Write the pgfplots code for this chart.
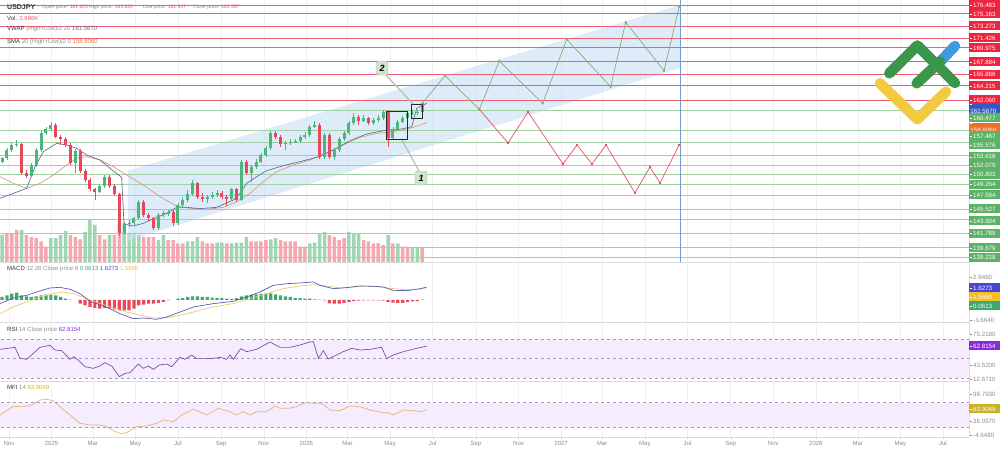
\documentclass[border=0pt]{standalone}
\usepackage{pgfplots}
\pgfplotsset{compat=1.18}
\usepackage{pgfplotstable}
\usepackage{fontspec}
\setmainfont{Liberation Sans}

\definecolor{cgreen}{RGB}{77,182,122}
\definecolor{cred}{RGB}{232,72,92}
\definecolor{vgreen}{RGB}{160,215,178}
\definecolor{vred}{RGB}{244,168,178}
\definecolor{lvred}{RGB}{236,96,116}
\definecolor{lvgreen}{RGB}{160,208,164}
\definecolor{boxred}{RGB}{238,36,62}
\definecolor{boxgreen}{RGB}{92,178,102}
\definecolor{boxblue}{RGB}{52,88,196}
\definecolor{boxorange}{RGB}{238,112,40}
\definecolor{chan}{RGB}{200,224,245}
\definecolor{vblue}{RGB}{110,160,212}
\definecolor{fgreen}{RGB}{130,172,120}
\definecolor{fred}{RGB}{230,80,92}
\definecolor{vwap}{RGB}{100,110,160}
\definecolor{sma}{RGB}{212,160,122}
\definecolor{macdb}{RGB}{90,92,182}
\definecolor{macds}{RGB}{240,200,110}
\definecolor{hgreen}{RGB}{60,170,110}
\definecolor{hred}{RGB}{235,70,90}
\definecolor{rsil}{RGB}{120,80,170}
\definecolor{band}{RGB}{245,236,253}
\definecolor{bandline}{RGB}{175,145,205}
\definecolor{mfil}{RGB}{226,182,122}
\definecolor{purplebox}{RGB}{138,40,220}
\definecolor{mfibox}{RGB}{200,180,34}
\definecolor{mblue}{RGB}{70,70,210}
\definecolor{myellow}{RGB}{244,190,40}
\definecolor{lgreen}{RGB}{58,150,72}
\definecolor{lblue}{RGB}{64,152,222}
\definecolor{lyellow}{RGB}{242,202,64}
\definecolor{lblbox}{RGB}{205,228,205}
\definecolor{dark}{RGB}{50,52,64}
\definecolor{greytxt}{RGB}{140,140,150}
\definecolor{valred}{RGB}{236,92,104}

\pgfplotstableread{
d o h l c
-10 152.71 153.47 152.46 153.22
-3 153.22 154.78 152.91 154.48
4 154.48 155.54 154.23 155.24
11 155.24 156.00 154.99 155.39
18 155.39 155.59 150.64 150.94
25 150.94 151.45 150.23 150.53
32 150.53 152.46 150.33 152.20
39 152.20 154.73 151.95 154.48
46 154.48 157.41 154.23 157.11
53 157.11 158.02 156.81 157.62
60 157.62 158.78 157.31 158.27
67 158.27 158.63 156.25 156.50
74 156.50 156.81 155.24 156.10
81 156.10 156.40 154.99 155.24
88 155.24 155.49 152.15 152.46
95 152.46 154.68 151.04 154.38
102 154.38 154.68 151.04 151.34
109 151.34 151.65 149.62 149.93
116 149.93 150.23 148.21 148.51
123 148.51 148.71 146.89 148.16
130 148.16 149.32 147.90 149.02
137 149.02 150.64 148.71 150.33
144 150.33 150.64 148.71 149.02
151 149.02 149.32 147.50 147.80
158 147.80 148.01 141.43 141.84
165 141.84 143.61 141.53 143.25
172 143.25 143.86 142.85 143.45
179 143.45 144.36 143.10 144.11
186 144.11 146.89 143.86 146.64
193 146.64 146.94 144.36 144.62
200 144.62 144.97 143.76 144.11
207 144.11 144.36 142.29 142.59
214 142.59 144.87 142.34 144.62
221 144.62 145.17 144.36 144.87
228 144.87 145.38 144.46 145.07
235 145.07 145.38 142.95 143.45
242 143.45 146.39 143.15 146.14
249 146.14 147.40 145.88 146.89
256 146.89 148.41 146.64 147.80
263 147.80 149.93 147.50 149.42
270 149.42 149.67 147.00 147.30
277 147.30 147.90 146.64 147.15
284 147.15 147.65 146.39 147.30
291 147.30 148.16 147.10 147.65
298 147.65 148.41 147.40 147.90
305 147.90 148.21 147.10 147.40
312 147.40 147.65 145.98 147.00
319 147.00 148.71 146.79 148.51
326 148.51 148.71 146.64 146.89
333 146.89 152.96 146.69 152.71
340 152.71 152.96 150.69 150.94
347 150.94 152.15 149.67 151.95
354 151.95 153.06 151.65 152.71
361 152.71 154.08 152.46 153.72
368 153.72 155.09 153.47 154.73
375 154.73 157.41 154.48 157.01
382 157.01 157.31 156.20 156.50
389 156.50 156.81 154.99 155.39
396 155.39 155.90 154.48 155.59
403 155.59 156.10 155.29 155.69
410 155.69 156.10 155.49 155.80
417 155.80 156.81 155.59 156.50
424 156.50 157.21 156.20 156.76
431 156.76 158.32 156.50 158.02
438 158.02 158.83 157.82 158.27
445 158.27 158.53 153.17 153.47
452 153.47 157.06 153.17 156.76
459 156.76 157.06 153.06 153.37
466 153.37 154.78 152.96 154.48
473 154.48 156.40 154.18 156.10
480 156.10 157.31 155.90 157.01
487 157.01 158.93 156.71 158.63
494 158.63 160.04 158.32 159.54
501 159.54 159.84 158.27 158.93
508 158.93 159.84 158.73 159.29
515 159.29 159.54 158.22 158.53
522 158.53 159.29 158.22 159.03
529 159.03 159.74 158.78 159.29
536 159.29 160.60 159.03 160.30
543 160.30 160.55 154.99 156.25
550 156.25 157.92 155.95 157.62
557 157.62 159.03 157.41 158.78
564 158.78 159.59 158.53 159.29
571 159.29 160.45 159.03 160.04
578 160.04 160.60 159.74 160.15
585 160.15 160.60 159.84 160.30
592 160.30 161.62 160.00 161.56
}\candles

\pgfplotstableread{
d v g
-10 7.5 1
-3 8.0 0
4 8.0 0
11 8.9 0
18 8.9 1
25 7.5 0
32 7.0 0
39 6.6 0
46 5.7 0
53 4.3 0
60 6.6 1
67 6.6 1
74 7.5 1
81 8.6 1
88 7.5 0
95 7.0 0
102 6.3 0
109 8.4 1
116 11.9 1
123 10.3 1
130 7.5 0
137 6.3 0
144 7.5 1
151 7.5 0
158 11.2 0
165 10.8 1
172 8.0 1
179 8.0 1
186 7.5 1
193 7.0 0
200 7.0 0
207 7.0 0
214 6.1 1
221 7.5 1
228 6.1 0
235 6.1 0
242 5.2 0
249 5.2 0
256 5.7 1
263 5.7 1
270 7.0 1
277 5.7 0
284 5.2 0
291 5.2 0
298 5.4 1
305 5.4 1
312 5.2 0
319 5.2 1
326 5.4 1
333 5.4 1
340 7.0 1
347 5.7 0
354 5.7 0
361 5.7 0
368 6.1 0
375 6.3 1
382 6.6 1
389 6.1 0
396 5.7 0
403 5.7 0
410 5.7 0
417 4.3 0
424 4.3 0
431 5.2 1
438 5.4 1
445 8.0 1
452 8.4 1
459 7.5 0
466 7.0 0
473 6.1 0
480 6.6 0
487 8.4 1
494 8.0 1
501 8.0 1
508 6.1 0
515 5.7 0
522 5.2 0
529 5.2 0
536 4.7 0
543 7.5 1
550 5.2 0
557 5.2 1
564 4.3 0
571 4.3 0
578 4.0 1
585 4.0 1
592 3.9 0
}\vol

\pgfplotstableread{
d h
-10 0.38
-3 0.59
4 0.80
11 0.93
18 0.59
25 0.46
32 0.38
39 0.46
46 0.59
53 0.67
60 0.67
67 0.59
74 0.38
81 0.17
88 0.04
95 0
102 -0.46
109 -0.67
116 -0.88
123 -1.01
130 -1.10
137 -1.01
144 -1.10
151 -1.18
158 -1.31
165 -1.31
172 -1.31
179 -1.10
186 -0.67
193 -0.59
200 -0.46
207 -0.46
214 -0.38
221 -0.25
228 -0.04
235 0
242 0.17
249 0.25
256 0.38
263 0.46
270 0.46
277 0.38
284 0.38
291 0.29
298 0.25
305 0.25
312 0.17
319 0.13
326 0.25
333 0.46
340 0.59
347 0.67
354 0.72
361 0.76
368 0.80
375 0.84
382 0.72
389 0.59
396 0.46
403 0.38
410 0.25
417 0.25
424 0.17
431 0.17
438 0.08
445 0.04
452 -0.04
459 -0.42
466 -0.46
473 -0.46
480 -0.38
487 -0.25
494 -0.13
501 -0.08
508 -0.04
515 -0.04
522 -0.04
529 -0.04
536 -0.08
543 -0.25
550 -0.34
557 -0.38
564 -0.38
571 -0.25
578 -0.17
585 -0.13
592 0.06
}\hist

\pgfplotsset{
  panel/.style={
    scale only axis, width=969pt, anchor=south west,
    xmin=-12.894, xmax=1375.36,
    axis x line*=bottom, axis y line*=right,
    axis line style={draw=black!14},
    xtick={0,61,120,181,242,304,365,426,485,546,607,669,730,791,850,911,972,1034,1095,1156,1216,1277,1338},
    xticklabels={}, ytick=\empty, tick style={draw=none},
    xmajorgrids, major grid style={draw=black!6, line width=0.5pt},
  },
}

\newcommand{\rlab}[3]{\node[anchor=west, fill=#2, text=white, inner xsep=1.2pt, inner ysep=0pt, minimum height=9pt, text width=28.6pt, align=left, font=\fontsize{6.2}{7}\selectfont] at (969pt,{449pt-#1pt}) {\rule[0.55ex]{1.6pt}{0.45pt}\hspace{1.2pt}#3};}
\newcommand{\glab}[2]{\node[anchor=west, text=black!45, inner xsep=1.2pt, inner ysep=0pt, font=\fontsize{6.2}{7}\selectfont] at (969pt,{449pt-#1pt}) {\rule[0.55ex]{1.6pt}{0.45pt}\hspace{1.2pt}#2};}

\begin{document}
\begin{tikzpicture}
\useasboundingbox (0,0) rectangle (1000pt,449pt);

% ---------- volume (background of the price panel) ----------
\begin{axis}[panel, at={(0pt,187pt)}, height=262pt, ymin=0, ymax=72.8, axis x line*=none, axis y line*=none, axis line style={draw=none}]
\addplot[ybar, bar width=3.5pt, bar shift=0pt, fill=vgreen, draw=none, restrict expr to domain={\thisrow{g}}{0.5:1.5}] table[x=d, y=v] {\vol};
\addplot[ybar, bar width=3.5pt, bar shift=0pt, fill=vred, draw=none, restrict expr to domain={\thisrow{g}}{-0.5:0.5}] table[x=d, y=v] {\vol};
\end{axis}

% ---------- price panel ----------
\begin{axis}[panel, at={(0pt,187pt)}, height=262pt, ymin=137.485, ymax=177.242, xmajorgrids=false]
\fill[chan, fill opacity=0.6] (axis cs:170.5,151.35) -- (axis cs:961.3,176.48) -- (axis cs:961.3,166.92) -- (axis cs:170.5,140.73) -- cycle;
\pgfplotsinvokeforeach{176.483,175.163,173.273,171.426,169.975,167.884,165.886,164.215,162.060}{
  \addplot[lvred, line width=0.9pt, forget plot] coordinates {(-20,#1) (1400,#1)};}
\pgfplotsinvokeforeach{160.477,157.487,155.576,153.618,152.079,150.803,149.264,147.594,145.527,143.904,141.789,139.679,138.228}{
  \addplot[lvgreen, line width=0.9pt, forget plot] coordinates {(-20,#1) (1400,#1)};}
\addplot[vblue, line width=0.7pt] coordinates {(961.3,137.485) (961.3,177.242)};
% moving averages
\addplot[sma, line width=0.7pt] coordinates {(-12.9,150.43) (6.2,149.42) (25.3,148.66) (44.4,149.42) (63.5,150.69) (82.6,152.20) (97.0,153.22) (111.3,153.47) (130.4,152.96) (149.5,151.95) (168.6,150.69) (192.4,149.17) (216.3,147.40) (240.2,145.98) (259.3,145.63) (283.2,145.48) (307.1,145.78) (326.2,146.64) (345.2,147.90) (364.3,149.67) (383.4,151.19) (407.3,152.20) (431.2,152.96) (455.1,153.97) (479.0,155.24) (502.9,156.40) (526.8,157.01) (550.6,157.26) (574.5,157.77) (598.4,158.61)};
\addplot[vwap, line width=0.7pt] coordinates {(-12.9,147.15) (6.2,147.90) (25.3,148.66) (37.3,151.95) (49.2,154.23) (68.3,155.49) (82.6,155.24) (97.0,154.73) (111.3,153.72) (130.4,152.96) (144.7,151.70) (161.4,150.33) (164.8,143.25) (178.1,142.95) (192.4,143.35) (211.6,144.26) (225.9,144.87) (240.2,145.78) (254.6,145.78) (273.6,145.58) (297.5,145.78) (321.4,146.89) (330.9,147.90) (340.5,149.42) (354.8,150.43) (369.1,151.34) (393.0,152.10) (416.9,152.71) (440.8,153.37) (464.7,154.48) (488.5,155.90) (512.4,156.91) (536.3,157.41) (560.2,157.62) (576.9,158.02) (584.1,160.80) (598.4,161.57)};
% candles: wicks
\addplot[draw=none, mark=none, forget plot, restrict expr to domain={\thisrow{c}-\thisrow{o}}{0:100},
  error bars/.cd, y dir=both, y explicit, error mark=none, error bar style={draw=cgreen, line width=0.7pt}]
  table[x=d, y expr={(\thisrow{h}+\thisrow{l})/2}, y error expr={(\thisrow{h}-\thisrow{l})/2}] {\candles};
\addplot[draw=none, mark=none, forget plot, restrict expr to domain={\thisrow{c}-\thisrow{o}}{-100:-0.0001},
  error bars/.cd, y dir=both, y explicit, error mark=none, error bar style={draw=cred, line width=0.7pt}]
  table[x=d, y expr={(\thisrow{h}+\thisrow{l})/2}, y error expr={(\thisrow{h}-\thisrow{l})/2}] {\candles};
% candles: bodies
\addplot[draw=none, mark=none, forget plot, restrict expr to domain={\thisrow{c}-\thisrow{o}}{0:100},
  error bars/.cd, y dir=both, y explicit, error mark=none, error bar style={draw=cgreen, line width=3pt}]
  table[x=d, y expr={(\thisrow{o}+\thisrow{c})/2}, y error expr={max(abs(\thisrow{c}-\thisrow{o})/2,0.06)}] {\candles};
\addplot[draw=none, mark=none, forget plot, restrict expr to domain={\thisrow{c}-\thisrow{o}}{-100:-0.0001},
  error bars/.cd, y dir=both, y explicit, error mark=none, error bar style={draw=cred, line width=3pt}]
  table[x=d, y expr={(\thisrow{o}+\thisrow{c})/2}, y error expr={max(abs(\thisrow{c}-\thisrow{o})/2,0.06)}] {\candles};
% forecast paths
\addplot[fred, line width=0.7pt, mark=*, mark size=0.8pt] coordinates {(673.8,160.66) (714.9,155.54) (743.6,160.25) (793.7,152.36) (813.8,155.24) (835.2,152.36) (855.3,155.24) (896.8,147.96) (918.3,151.90) (932.7,149.47) (959.9,155.24)};
\addplot[fgreen, line width=0.7pt, mark=*, mark size=0.8pt] coordinates {(592,161.56) (624.6,165.75) (673.8,160.66) (702.4,167.98) (764.6,161.57) (799.0,171.28) (862.0,164.08) (883.5,173.86) (938.4,166.51) (960.3,176.23)};
% boxes and labels
\draw[black!85, line width=0.8pt] (axis cs:540.1,160.40) rectangle (axis cs:570.2,156.15);
\draw[black!85, line width=0.8pt] (axis cs:575.9,161.46) rectangle (axis cs:591.7,159.34);
\draw[lblbox!85!black, line width=1.2pt] (axis cs:540.1,165.86) -- (axis cs:578.8,161.46);
\draw[lblbox!85!black, line width=1.2pt] (axis cs:587.4,151.29) -- (axis cs:563.0,155.97);
\node[fill=lblbox, draw=lblbox!80!black, rounded corners=1.5pt, minimum width=12pt, minimum height=14pt, inner sep=0pt, font=\bfseries\itshape\fontsize{9}{10}\selectfont] at (axis cs:534.4,166.92) {2};
\node[fill=lblbox, draw=lblbox!80!black, rounded corners=1.5pt, minimum width=12pt, minimum height=14pt, inner sep=0pt, font=\bfseries\itshape\fontsize{9}{10}\selectfont] at (axis cs:590.3,150.23) {1};
\end{axis}

% ---------- MACD ----------
\begin{axis}[panel, at={(0pt,127pt)}, height=60pt, ymin=-2.78, ymax=4.80]
\addplot[ybar, bar width=3.2pt, bar shift=0pt, fill=hgreen, draw=none, restrict y to domain=0.0001:10] table[x=d, y=h] {\hist};
\addplot[ybar, bar width=3.2pt, bar shift=0pt, fill=hred, draw=none, restrict y to domain=-10:-0.0001] table[x=d, y=h] {\hist};
\addplot[macds, line width=0.7pt] coordinates {(-12.9,-1.73) (6.2,-0.88) (25.3,-0.25) (44.4,0.38) (63.5,0.80) (77.8,1.01) (92.1,0.80) (111.3,0.17) (130.4,-0.46) (149.5,-1.01) (168.6,-1.52) (187.7,-1.94) (206.8,-2.28) (225.9,-2.23) (245.0,-1.94) (264.1,-1.52) (292.7,-0.88) (321.4,-0.46) (345.2,0.17) (369.1,0.80) (393.0,1.43) (416.9,1.77) (436.0,1.94) (455.1,1.77) (474.2,1.52) (493.3,1.64) (512.4,1.77) (531.5,1.64) (550.6,1.43) (569.7,1.31) (588.8,1.35) (598.4,1.566)};
\addplot[macdb, line width=0.7pt] coordinates {(-12.9,-0.46) (6.2,0.25) (25.3,0.59) (39.6,1.01) (58.7,1.52) (73.1,1.60) (87.4,1.35) (101.7,0.80) (116.1,-0.17) (130.4,-0.59) (144.7,-1.10) (159.0,-1.73) (178.1,-2.36) (192.4,-2.28) (211.6,-2.44) (225.9,-2.15) (245.0,-1.52) (264.1,-0.88) (292.7,-0.46) (321.4,-0.17) (340.5,0.38) (359.6,1.01) (378.7,1.85) (397.8,2.06) (416.9,2.15) (436.0,2.28) (445.5,1.85) (464.7,1.43) (483.8,1.56) (502.9,1.77) (522.0,1.73) (536.3,1.64) (550.6,1.22) (569.7,1.18) (588.8,1.43) (598.4,1.627)};
\end{axis}

% ---------- RSI ----------
\begin{axis}[panel, at={(0pt,68pt)}, height=59pt, ymin=27.28, ymax=87.46]
\fill[band] (axis cs:-20,30) rectangle (axis cs:1400,70);
\addplot[bandline, dashed, line width=0.6pt, forget plot] coordinates {(-20,70) (1400,70)};
\addplot[bandline, dashed, line width=0.6pt, forget plot] coordinates {(-20,50) (1400,50)};
\addplot[bandline, dashed, line width=0.6pt, forget plot] coordinates {(-20,30) (1400,30)};
\addplot[rsil, line width=0.7pt] coordinates {(-12.9,59.6) (8.6,61.6) (15.8,50.4) (25.3,49.4) (44.4,61.6) (58.7,63.7) (65.9,58.9) (75.4,58.2) (87.4,49.4) (93.1,52.1) (101.7,47.0) (108.9,41.9) (120.8,40.2) (130.4,42.6) (137.5,46.0) (147.1,42.6) (158.1,31.7) (166.2,35.1) (173.3,35.8) (185.3,44.6) (192.4,40.2) (199.6,42.6) (206.8,39.2) (215.4,43.6) (225.9,44.6) (233.0,41.9) (245.0,51.4) (252.1,49.4) (261.7,53.8) (268.8,50.1) (283.2,50.1) (292.7,50.4) (302.3,51.4) (311.8,49.4) (316.6,53.8) (321.4,49.4) (331.9,60.2) (340.5,57.2) (354.8,59.6) (373.9,67.06) (388.2,61.6) (402.6,61.6) (416.9,64.0) (431.2,67.06) (436.0,67.4) (443.2,50.4) (450.3,58.2) (457.5,49.7) (469.4,53.8) (479.0,57.2) (490.9,60.6) (502.9,58.9) (517.2,59.6) (533.9,61.6) (541.1,50.1) (550.6,53.8) (565.0,57.2) (584.1,60.6) (598.4,62.82)};
\end{axis}

% ---------- MFI ----------
\begin{axis}[panel, at={(0pt,12pt)}, height=56pt, ymin=-2.55, ymax=132.57,
  xticklabels={Nov,2025,Mar,May,Jul,Sep,Nov,2026,Mar,May,Jul,Sep,Nov,2027,Mar,May,Jul,Sep,Nov,2028,Mar,May,Jul},
  tick style={draw=black!25}, major tick length=2.5pt, tick align=outside,
  xticklabel style={font=\fontsize{6}{7}\selectfont, text=black!45, inner sep=1.5pt}]
\fill[band] (axis cs:-20,20) rectangle (axis cs:1400,80);
\addplot[bandline, dashed, line width=0.6pt, forget plot] coordinates {(-20,80) (1400,80)};
\addplot[bandline, dashed, line width=0.6pt, forget plot] coordinates {(-20,20) (1400,20)};
\addplot[mfil, line width=0.7pt] coordinates {(-12.9,50.5) (5.4,70.6) (30.1,72.3) (44.4,86.7) (54.0,88.4) (63.5,85.0) (73.1,70.6) (87.4,50.5) (101.7,30.5) (116.1,26.4) (130.4,26.4) (139.9,22.4) (149.5,12.7) (161.4,4.7) (171.0,10.3) (182.9,22.4) (197.2,24.0) (211.6,30.5) (221.1,38.5) (235.5,34.5) (247.4,50.5) (264.1,65.0) (283.2,50.5) (299.9,66.6) (316.6,58.6) (326.1,50.5) (335.7,58.6) (345.2,50.5) (354.8,58.6) (369.1,58.6) (381.1,72.3) (388.2,66.6) (400.2,66.6) (412.1,70.6) (424.1,80.2) (438.4,78.7) (448.0,78.7) (459.9,62.6) (474.2,61.0) (488.5,72.3) (502.9,70.6) (517.2,62.6) (536.3,56.2) (543.5,56.2) (550.6,50.5) (565.0,62.6) (579.3,61.0) (591.3,58.6) (598.4,63.90)};
\end{axis}

% ---------- logo ----------
\begin{scope}[line cap=round, line join=round, line width=10.5pt]
\draw[lyellow] (880pt,365.7pt) -- (917.3pt,329.7pt) -- (946pt,357.3pt);
\draw[lblue] (940pt,387.3pt) -- (955pt,403pt);
\draw[lgreen] (916.7pt,365.7pt) -- (940pt,387.3pt);
\draw[lgreen] (889.3pt,375.7pt) -- (917.3pt,403.5pt) -- (955pt,366pt);
\end{scope}

% ---------- right labels ----------
\rlab{5}{boxred}{176.483}
\rlab{14}{boxred}{175.163}
\rlab{26}{boxred}{173.273}
\rlab{38}{boxred}{171.426}
\rlab{48}{boxred}{169.975}
\rlab{62}{boxred}{167.884}
\rlab{74.5}{boxred}{165.886}
\rlab{86}{boxred}{164.215}
\rlab{100}{boxred}{162.060}
\rlab{109}{boxblue}{161.5670}
\rlab{118}{boxgreen}{160.477}
\rlab{127.5}{boxorange}{158.6060}
\rlab{136}{boxgreen}{157.487}
\rlab{145}{boxgreen}{155.576}
\rlab{156.7}{boxgreen}{153.618}
\rlab{165.7}{boxgreen}{152.079}
\rlab{174.5}{boxgreen}{150.803}
\rlab{184.5}{boxgreen}{149.264}
\rlab{195}{boxgreen}{147.594}
\rlab{209}{boxgreen}{145.527}
\rlab{221}{boxgreen}{143.904}
\rlab{233.5}{boxgreen}{141.789}
\rlab{248}{boxgreen}{139.679}
\rlab{257.5}{boxgreen}{138.228}
\glab{277}{2.9460}
\rlab{288}{mblue}{1.6273}
\rlab{297}{myellow}{1.5660}
\rlab{306}{hgreen}{0.0613}
\glab{320}{-3.6640}
\glab{334}{75.2180}
\rlab{346}{purplebox}{62.8154}
\glab{365}{43.5200}
\glab{379}{12.6710}
\glab{394}{98.7930}
\rlab{409}{mfibox}{63.9049}
\glab{421}{36.0570}
\glab{435}{-4.6480}

% ---------- legends ----------
\node[anchor=west, inner sep=0pt, font=\bfseries\fontsize{7}{8}\selectfont, text=dark] at (7pt,441.5pt) {USDJPY};
\node[anchor=west, inner sep=0pt, font=\fontsize{5}{6}\selectfont] at (42pt,442pt) {\textcolor{greytxt}{Open price:} \textcolor{valred}{161.603}};
\node[anchor=west, inner sep=0pt, font=\fontsize{5}{6}\selectfont] at (89pt,442pt) {\textcolor{greytxt}{High price:} \textcolor{valred}{161.620}};
\node[anchor=west, inner sep=0pt, font=\fontsize{5}{6}\selectfont] at (143pt,442pt) {\textcolor{greytxt}{Low price:} \textcolor{valred}{161.547}};
\node[anchor=west, inner sep=0pt, font=\fontsize{5}{6}\selectfont] at (193pt,442pt) {\textcolor{greytxt}{Close price:} \textcolor{valred}{161.557}};
\node[anchor=west, inner sep=0pt, font=\fontsize{6}{7}\selectfont] at (7pt,430.5pt) {\textcolor{dark}{Vol.} \textcolor{valred}{3.886K}};
\node[anchor=west, inner sep=0pt, font=\fontsize{6}{7}\selectfont] at (7pt,420pt) {\textcolor{dark}{VWAP} \textcolor{greytxt}{(High+Low)/2 20} \textcolor{vwap}{161.5670}};
\node[anchor=west, inner sep=0pt, font=\fontsize{6}{7}\selectfont] at (7pt,407.5pt) {\textcolor{dark}{SMA} \textcolor{greytxt}{20 (High+Low)/2 0} \textcolor{boxorange}{158.6060}};
\node[anchor=west, inner sep=0pt, font=\fontsize{6}{7}\selectfont] at (7pt,180pt) {\textcolor{dark}{MACD} \textcolor{greytxt}{12 26 Close price 9} \textcolor{hgreen}{0.0613} \textcolor{mblue}{1.6273} \textcolor{myellow}{1.5660}};
\node[anchor=west, inner sep=0pt, font=\fontsize{6}{7}\selectfont] at (7pt,119pt) {\textcolor{dark}{RSI} \textcolor{greytxt}{14 Close price} \textcolor{purplebox}{62.8154}};
\node[anchor=west, inner sep=0pt, font=\fontsize{6}{7}\selectfont] at (7pt,62pt) {\textcolor{dark}{MFI} \textcolor{greytxt}{14} \textcolor{mfibox}{63.9049}};
\end{tikzpicture}
\end{document}
